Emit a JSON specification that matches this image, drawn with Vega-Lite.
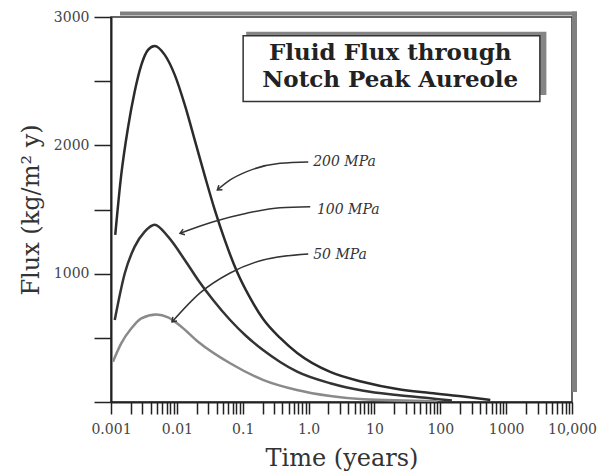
{
  "$schema": "https://vega.github.io/schema/vega-lite/v6.json",
  "width": 461,
  "height": 385,
  "autosize": "none",
  "padding": {"left": 111, "top": 17, "right": 38, "bottom": 74},
  "background": "white",
  "config": {"view": {"stroke": "#333", "strokeWidth": 1.5}, "font": "DejaVu Serif"},
  "data": {"values": [{}]},
  "datasets": {
    "curves": [
      {"p": "200 MPa", "t": 0.00116, "flux": 1302},
      {"p": "200 MPa", "t": 0.00143, "flux": 1769},
      {"p": "200 MPa", "t": 0.00181, "flux": 2136},
      {"p": "200 MPa", "t": 0.00229, "flux": 2419},
      {"p": "200 MPa", "t": 0.00289, "flux": 2627},
      {"p": "200 MPa", "t": 0.00365, "flux": 2744},
      {"p": "200 MPa", "t": 0.0046, "flux": 2775},
      {"p": "200 MPa", "t": 0.00655, "flux": 2705},
      {"p": "200 MPa", "t": 0.00929, "flux": 2549},
      {"p": "200 MPa", "t": 0.0132, "flux": 2315},
      {"p": "200 MPa", "t": 0.0196, "flux": 2003},
      {"p": "200 MPa", "t": 0.02684, "flux": 1754},
      {"p": "200 MPa", "t": 0.03806, "flux": 1489},
      {"p": "200 MPa", "t": 0.05401, "flux": 1255},
      {"p": "200 MPa", "t": 0.08224, "flux": 1013},
      {"p": "200 MPa", "t": 0.1296, "flux": 811},
      {"p": "200 MPa", "t": 0.2042, "flux": 647},
      {"p": "200 MPa", "t": 0.37, "flux": 499},
      {"p": "200 MPa", "t": 0.671, "flux": 382},
      {"p": "200 MPa", "t": 2.13, "flux": 234},
      {"p": "200 MPa", "t": 6.76, "flux": 156},
      {"p": "200 MPa", "t": 22.2, "flux": 101},
      {"p": "200 MPa", "t": 70.5, "flux": 70},
      {"p": "200 MPa", "t": 257, "flux": 39},
      {"p": "200 MPa", "t": 575, "flux": 16},
      {"p": "100 MPa", "t": 0.00114, "flux": 639},
      {"p": "100 MPa", "t": 0.00162, "flux": 1003},
      {"p": "100 MPa", "t": 0.00229, "flux": 1211},
      {"p": "100 MPa", "t": 0.00325, "flux": 1328},
      {"p": "100 MPa", "t": 0.0046, "flux": 1382},
      {"p": "100 MPa", "t": 0.00735, "flux": 1288},
      {"p": "100 MPa", "t": 0.0132, "flux": 1107},
      {"p": "100 MPa", "t": 0.021, "flux": 951},
      {"p": "100 MPa", "t": 0.0355, "flux": 795},
      {"p": "100 MPa", "t": 0.0644, "flux": 639},
      {"p": "100 MPa", "t": 0.1127, "flux": 514},
      {"p": "100 MPa", "t": 0.2035, "flux": 405},
      {"p": "100 MPa", "t": 0.37, "flux": 312},
      {"p": "100 MPa", "t": 0.67, "flux": 236},
      {"p": "100 MPa", "t": 2.13, "flux": 146},
      {"p": "100 MPa", "t": 6.83, "flux": 88},
      {"p": "100 MPa", "t": 22, "flux": 55},
      {"p": "100 MPa", "t": 70, "flux": 29},
      {"p": "100 MPa", "t": 150, "flux": 12},
      {"p": "50 MPa", "t": 0.00107, "flux": 314},
      {"p": "50 MPa", "t": 0.00143, "flux": 457},
      {"p": "50 MPa", "t": 0.00204, "flux": 574},
      {"p": "50 MPa", "t": 0.00289, "flux": 652},
      {"p": "50 MPa", "t": 0.00488, "flux": 682},
      {"p": "50 MPa", "t": 0.00735, "flux": 660},
      {"p": "50 MPa", "t": 0.0117, "flux": 587},
      {"p": "50 MPa", "t": 0.021, "flux": 470},
      {"p": "50 MPa", "t": 0.0644, "flux": 302},
      {"p": "50 MPa", "t": 0.207, "flux": 171},
      {"p": "50 MPa", "t": 0.664, "flux": 94},
      {"p": "50 MPa", "t": 2.13, "flux": 47},
      {"p": "50 MPa", "t": 6.83, "flux": 21},
      {"p": "50 MPa", "t": 90, "flux": 6}
    ],
    "arrows": [
      {"a": "200", "t": 0.0412, "flux": 1652},
      {"a": "200", "t": 0.0644, "flux": 1730},
      {"a": "200", "t": 0.115, "flux": 1795},
      {"a": "200", "t": 0.37, "flux": 1860},
      {"a": "200", "t": 0.99, "flux": 1871},
      {"a": "100", "t": 0.01118, "flux": 1315},
      {"a": "100", "t": 0.0358, "flux": 1405},
      {"a": "100", "t": 0.115, "flux": 1471},
      {"a": "100", "t": 0.37, "flux": 1514},
      {"a": "100", "t": 1.06, "flux": 1522},
      {"a": "50", "t": 0.00845, "flux": 624},
      {"a": "50", "t": 0.02254, "flux": 850},
      {"a": "50", "t": 0.0644, "flux": 1005},
      {"a": "50", "t": 0.204, "flux": 1107},
      {"a": "50", "t": 0.99, "flux": 1154}
    ]
  },
  "layer": [
    {
      "data": {"name": "curves"},
      "mark": {"type": "line", "interpolate": "monotone", "strokeWidth": 2.5, "clip": true},
      "encoding": {
        "x": {
          "field": "t", "type": "quantitative",
          "scale": {"type": "log", "domain": [0.001, 10000], "nice": false},
          "axis": {
            "title": "Time (years)",
            "values": [0.001,0.002,0.003,0.004,0.005,0.006,0.007,0.008,0.009,0.01,0.02,0.03,0.04,0.05,0.06,0.07,0.08,0.09,0.1,0.2,0.3,0.4,0.5,0.6,0.7,0.8,0.9,1,2,3,4,5,6,7,8,9,10,20,30,40,50,60,70,80,90,100,200,300,400,500,600,700,800,900,1000,2000,3000,4000,5000,6000,7000,8000,9000,10000],
            "labelExpr": "abs(log(datum.value)/LN10 - round(log(datum.value)/LN10)) < 0.001 ? ['0.001','0.01','0.1','1.0','10','100','1000','10,000'][round(log(datum.value)/LN10) + 3] : ''",
            "labelFlush": false,
            "labelOverlap": false,
            "labelFont": "DejaVu Serif",
            "labelFontSize": 14,
            "labelColor": "#444",
            "labelPadding": 8,
            "tickSize": 12,
            "tickColor": "#222",
            "tickWidth": 1.5,
            "domainColor": "#222",
            "domainWidth": 2,
            "grid": false,
            "titleFont": "DejaVu Serif",
            "titleFontSize": 24,
            "titleFontWeight": "normal",
            "titleColor": "#333",
            "titlePadding": 10,
            "encode": {
              "ticks": {
                "update": {
                  "y": {"value": 0},
                  "y2": [
                    {"test": "abs(log(datum.value)/LN10 - round(log(datum.value)/LN10)) < 0.001", "value": 12},
                    {"value": 5}
                  ]
                }
              }
            }
          }
        },
        "y": {
          "field": "flux", "type": "quantitative",
          "scale": {"domain": [0, 3000], "nice": false},
          "axis": {
            "title": "Flux (kg/m² y)",
            "values": [0, 500, 1000, 1500, 2000, 2500, 3000],
            "labelExpr": "datum.value > 0 && datum.value % 1000 === 0 ? format(datum.value, 'd') : ''",
            "labelFont": "DejaVu Serif",
            "labelFontSize": 14,
            "labelColor": "#444",
            "labelPadding": 5,
            "labelOverlap": false,
            "tickSize": 17,
            "tickColor": "#222",
            "tickWidth": 1.5,
            "domainColor": "#222",
            "domainWidth": 2,
            "grid": false,
            "titleFont": "DejaVu Serif",
            "titleFontSize": 24,
            "titleFontWeight": "normal",
            "titleColor": "#333",
            "titlePadding": 10,
            "encode": {
              "ticks": {
                "update": {
                  "x": {"value": 0},
                  "x2": [
                    {"test": "datum.value % 1000 === 0", "value": -17},
                    {"value": -7}
                  ]
                }
              }
            }
          }
        },
        "color": {
          "field": "p", "type": "nominal",
          "scale": {"domain": ["200 MPa", "100 MPa", "50 MPa"], "range": ["#2b2b2b", "#333333", "#8a8a8a"]},
          "legend": null
        }
      }
    },
    {
      "mark": {"type": "rule", "color": "#808080", "strokeWidth": 4, "yOffset": -3.5, "x2Offset": 5},
      "encoding": {
        "x": {"datum": 0.00137, "type": "quantitative"},
        "x2": {"datum": 10000},
        "y": {"datum": 3000, "type": "quantitative"}
      }
    },
    {
      "mark": {"type": "rule", "color": "#808080", "strokeWidth": 5, "xOffset": 2.5, "y2Offset": -5.5},
      "encoding": {
        "x": {"datum": 10000, "type": "quantitative"},
        "y": {"datum": 78, "type": "quantitative"},
        "y2": {"datum": 3000}
      }
    },
    {
      "mark": {"type": "rect", "color": "#858585"},
      "encoding": {
        "x": {"datum": 0.1128, "type": "quantitative"},
        "x2": {"datum": 4083},
        "y": {"datum": 2393, "type": "quantitative"},
        "y2": {"datum": 2886}
      }
    },
    {
      "mark": {"type": "rect", "fill": "white", "stroke": "#333", "strokeWidth": 1.5},
      "encoding": {
        "x": {"datum": 0.1015, "type": "quantitative"},
        "x2": {"datum": 3251},
        "y": {"datum": 2341, "type": "quantitative"},
        "y2": {"datum": 2853}
      }
    },
    {
      "mark": {"type": "text", "text": ["Fluid Flux through", "Notch Peak Aureole"], "font": "DejaVu Serif", "fontWeight": "bold", "fontSize": 23, "lineHeight": 27, "align": "center", "baseline": "alphabetic", "color": "#222"},
      "encoding": {
        "x": {"datum": 17.4, "type": "quantitative"},
        "y": {"datum": 2663, "type": "quantitative"}
      }
    },
    {
      "data": {"name": "arrows"},
      "mark": {"type": "line", "interpolate": "monotone", "strokeWidth": 1.5, "color": "#333"},
      "encoding": {
        "x": {"field": "t", "type": "quantitative", "title": "Time (years)"},
        "y": {"field": "flux", "type": "quantitative", "title": "Flux (kg/m² y)"},
        "detail": {"field": "a"}
      }
    },
    {
      "mark": {"type": "point", "shape": "M -1 -0.7 L 0 0 L -1 0.7", "filled": false, "stroke": "#333", "strokeWidth": 1.5, "size": 70, "angle": 142, "opacity": 1},
      "encoding": {
        "x": {"datum": 0.0412, "type": "quantitative"},
        "y": {"datum": 1652, "type": "quantitative"}
      }
    },
    {
      "mark": {"type": "point", "shape": "M -1 -0.7 L 0 0 L -1 0.7", "filled": false, "stroke": "#333", "strokeWidth": 1.5, "size": 70, "angle": 162, "opacity": 1},
      "encoding": {
        "x": {"datum": 0.01118, "type": "quantitative"},
        "y": {"datum": 1315, "type": "quantitative"}
      }
    },
    {
      "mark": {"type": "point", "shape": "M -1 -0.7 L 0 0 L -1 0.7", "filled": false, "stroke": "#333", "strokeWidth": 1.5, "size": 70, "angle": 134, "opacity": 1},
      "encoding": {
        "x": {"datum": 0.00845, "type": "quantitative"},
        "y": {"datum": 624, "type": "quantitative"}
      }
    },
    {
      "mark": {"type": "text", "text": "200 MPa", "font": "DejaVu Serif", "fontStyle": "italic", "fontSize": 14, "align": "left", "baseline": "middle", "color": "#333"},
      "encoding": {
        "x": {"datum": 1.175, "type": "quantitative"},
        "y": {"datum": 1871, "type": "quantitative"}
      }
    },
    {
      "mark": {"type": "text", "text": "100 MPa", "font": "DejaVu Serif", "fontStyle": "italic", "fontSize": 14, "align": "left", "baseline": "middle", "color": "#333"},
      "encoding": {
        "x": {"datum": 1.337, "type": "quantitative"},
        "y": {"datum": 1497, "type": "quantitative"}
      }
    },
    {
      "mark": {"type": "text", "text": "50 MPa", "font": "DejaVu Serif", "fontStyle": "italic", "fontSize": 14, "align": "left", "baseline": "middle", "color": "#333"},
      "encoding": {
        "x": {"datum": 1.175, "type": "quantitative"},
        "y": {"datum": 1146, "type": "quantitative"}
      }
    }
  ]
}
